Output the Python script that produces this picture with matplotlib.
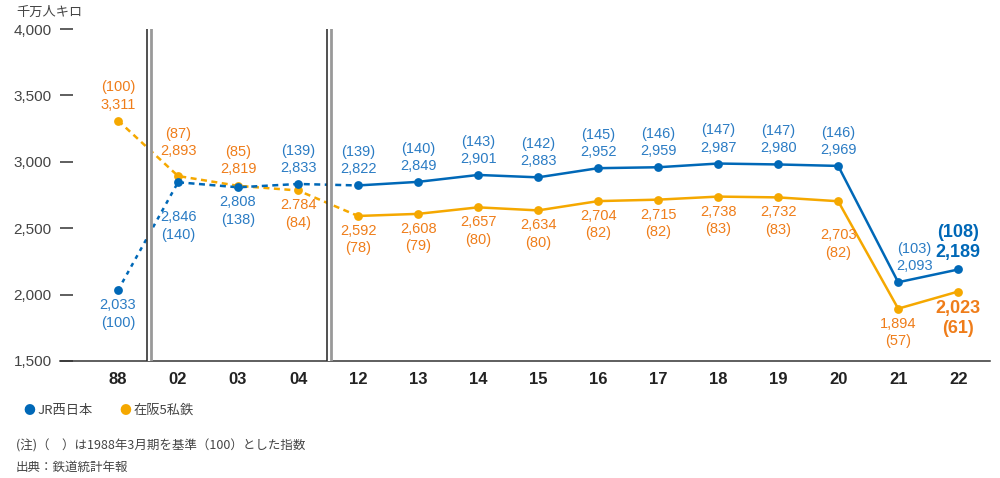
import matplotlib
matplotlib.use("Agg")
import matplotlib.pyplot as plt

plt.rcParams["font.family"] = ["Noto Sans CJK JP", "DejaVu Sans"]

years = ["88", "02", "03", "04", "12", "13", "14", "15", "16", "17", "18", "19", "20", "21", "22"]
jr = [2033, 2846, 2808, 2833, 2822, 2849, 2901, 2883, 2952, 2959, 2987, 2980, 2969, 2093, 2189]
jr_idx = [100, 140, 138, 139, 139, 140, 143, 142, 145, 146, 147, 147, 146, 103, 108]
pr = [3311, 2893, 2819, 2784, 2592, 2608, 2657, 2634, 2704, 2715, 2738, 2732, 2703, 1894, 2023]
pr_idx = [100, 87, 85, 84, 78, 79, 80, 80, 82, 82, 83, 83, 82, 57, 61]
pr_txt = ["3,311", "2,893", "2,819", "2.784", "2,592", "2,608", "2,657", "2,634", "2,704",
          "2,715", "2,738", "2,732", "2,703", "1,894", "2,023"]
yticks = [1500, 2000, 2500, 3000, 3500, 4000]

BLUE, BLUE_T = "#0068b7", "#2b7cc4"
ORNG, ORNG_T = "#f5a800", "#ef7d1a"
NUM = ["Liberation Sans Narrow", "Liberation Sans", "DejaVu Sans"]

fig = plt.figure(figsize=(10, 4.78), dpi=100)
ax = fig.add_axes([0.06, 0.2448, 0.93, 0.6945])
x = list(range(len(years)))
ax.set_xlim(-0.967, 14.53)
ax.set_ylim(1500, 4000)

# dashed part (up to 12), solid afterwards
ax.plot(x[:2], jr[:2], color=BLUE, lw=1.8, ls=(0, (1.6, 2.0)), zorder=3)
ax.plot(x[1:5], jr[1:5], color=BLUE, lw=1.8, ls=(0, (2.4, 1.8)), zorder=3)
ax.plot(x[:5], pr[:5], color=ORNG, lw=1.8, ls=(0, (2.4, 1.8)), zorder=2)
ax.plot(x[4:], jr[4:], color=BLUE, lw=1.8, zorder=3)
ax.plot(x[4:], pr[4:], color=ORNG, lw=1.8, zorder=2)
ax.scatter(x, pr, s=40, color=ORNG, zorder=4, linewidths=0)
ax.scatter(x, jr, s=40, color=BLUE, zorder=5, linewidths=0)

# axis breaks
for b in (0.5, 3.5):
    ax.axvspan(b - 0.022, b + 0.055, color="white", zorder=6)
    ax.axvline(b - 0.022, color="#222222", lw=1.1, zorder=7)
    ax.axvline(b + 0.055, color="#999999", lw=2.0, zorder=7)


def lab(i, y, txt, col, dy, dx=0, size=10.5, bold=False):
    ax.annotate(txt, (i, y), xytext=(dx, dy), textcoords="offset pixels",
                ha="center", va="bottom" if dy > 0 else "top", color=col,
                fontsize=size, fontweight="bold" if bold else "normal",
                family=NUM, linespacing=1.3, zorder=8)


for i in range(len(years)):
    jt = f"{jr[i]:,}"
    if i in (0, 1, 2):
        dy = {0: -8, 1: -28, 2: -8}[i]
        lab(i, jr[i], f"{jt}\n({jr_idx[i]})", BLUE_T, dy)
    elif i == 13:
        lab(i, jr[i], f"({jr_idx[i]})\n{jt}", BLUE_T, 9, dx=16)
    elif i == 14:
        lab(i, jr[i], f"({jr_idx[i]})\n{jt}", BLUE, 8, size=13, bold=True)
    else:
        lab(i, jr[i], f"({jr_idx[i]})\n{jt}", BLUE_T, 9)

    if i in (0, 1, 2):
        dy = {0: 9, 1: 18, 2: 10}[i]
        lab(i, pr[i], f"({pr_idx[i]})\n{pr_txt[i]}", ORNG_T, dy)
    elif i == 14:
        lab(i, pr[i], f"{pr_txt[i]}\n({pr_idx[i]})", ORNG_T, -8, size=13, bold=True)
    else:
        dy = -27 if i == 12 else -8
        lab(i, pr[i], f"{pr_txt[i]}\n({pr_idx[i]})", ORNG_T, dy)

ax.set_xticks(x)
ax.set_xticklabels(years, fontsize=12, fontweight="bold", color="#222222", family=NUM)
ax.set_yticks(yticks)
ax.set_yticklabels([f"{v:,}" for v in yticks], fontsize=11, color="#444444", family=NUM)
ax.tick_params(axis="x", length=0, pad=8)
ax.tick_params(axis="y", direction="in", length=13 * 0.72, width=1.1, color="#333333", pad=6)
for s in ("top", "right", "left"):
    ax.spines[s].set_visible(False)
ax.spines["bottom"].set_color("#333333")
ax.spines["bottom"].set_linewidth(1.1)

fig.text(0.016, 0.975, "千万人キロ", fontsize=9.5, color="#444444", va="center")

# legend
fig.text(0.023, 0.142, "●", fontsize=8.5, color=BLUE, va="center")
fig.text(0.037, 0.142, "JR西日本", fontsize=9.5, color="#444444", va="center")
fig.text(0.119, 0.142, "●", fontsize=8.5, color=ORNG, va="center")
fig.text(0.134, 0.142, "在阪5私鉄", fontsize=9.5, color="#444444", va="center")

fig.text(0.016, 0.067, "(注)（　）は1988年3月期を基準（100）とした指数", fontsize=9, color="#444444", va="center")
fig.text(0.016, 0.023, "出典：鉄道統計年報", fontsize=9, color="#444444", va="center")

fig.savefig("out.png", dpi=100)
